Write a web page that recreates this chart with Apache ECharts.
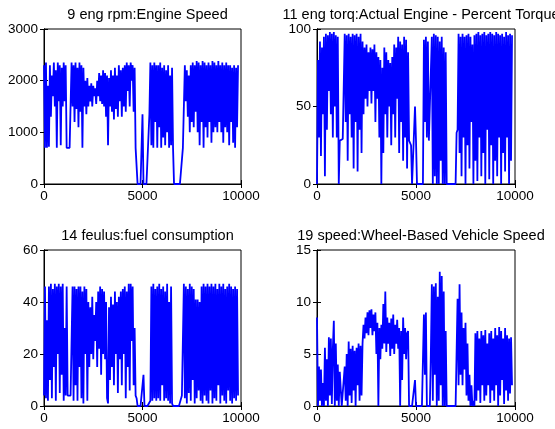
<!DOCTYPE html>
<html>
<head>
<meta charset="utf-8">
<title>engine signals</title>
<script src="https://cdn.jsdelivr.net/npm/echarts@6/dist/echarts.min.js"></script>
<style>
  html, body { margin: 0; padding: 0; background: #fff; }
  #main { width: 555px; height: 429px; }
</style>
</head>
<body>
<div id="main"></div>
<script>
// sample spacing (x axis is sample index)
var STEP = 50;

// 9 eng rpm
var rpm = [
  2300, 700, 2350, 700, 1900, 720, 2300, 1300, 2100, 1700,
  2350, 1500, 2200, 700, 2350, 1600, 2300, 750, 2250, 1500,
  2350, 1600, 2300, 700, 700, 700, 700, 700, 2350, 1500,
  2300, 1200, 2350, 1450, 2250, 1100, 2350, 1400, 2300, 700,
  2250, 1500, 2000, 1350, 2050, 1500, 1900, 1600, 1950, 1500,
  1900, 1700, 1850, 1550, 2000, 1700, 2150, 1600, 2100, 1550,
  2200, 1500, 2150, 1300, 2100, 750, 2050, 1500, 2200, 1400,
  2100, 1250, 2250, 1450, 2100, 1300, 2300, 1600, 2200, 1300,
  2250, 1500, 2300, 1400, 2350, 1800, 2300, 1500, 2350, 2000,
  2300, 1400, 2250, 700, 700, 0, 0, 0, 0, 0,
  1350, 0, 0, 0, 0, 0, 0, 1350, 2350, 750,
  2300, 700, 2350, 1200, 2300, 700, 2300, 1100, 2350, 700,
  2250, 900, 2300, 750, 2200, 1000, 2300, 700, 2100, 750,
  2250, 700, 0, 0, 0, 0, 0, 0, 0, 0,
  0, 700, 700, 2300, 1600, 2200, 1300, 2100, 1000, 2300,
  1200, 2350, 1100, 2300, 1400, 2380, 1000, 2350, 750, 2300,
  1200, 2380, 700, 2350, 1100, 2300, 900, 2350, 1200, 2300,
  800, 2380, 1000, 2350, 1100, 2300, 1000, 2380, 1200, 2300,
  1000, 2350, 800, 2300, 1100, 2350, 1000, 2300, 750, 2300,
  1200, 2250, 800, 2300, 700, 2250, 1100, 2300
];

// 11 eng torq
var torq = [
  0, 80, 30, 92, 18, 88, 45, 95, 5, 97,
  35, 96, 60, 98, 45, 97, 30, 98, 50, 96,
  30, 95, 0, 28, 28, 28, 29, 30, 97, 40,
  96, 15, 97, 45, 95, 30, 97, 10, 96, 40,
  97, 8, 95, 35, 97, 20, 92, 45, 88, 55,
  90, 50, 85, 60, 88, 52, 87, 60, 90, 40,
  85, 55, 82, 30, 80, 0, 75, 20, 88, 45,
  85, 30, 80, 50, 78, 25, 82, 45, 90, 30,
  88, 55, 95, 20, 92, 40, 90, 15, 95, 30,
  93, 10, 85, 28, 28, 25, 0, 0, 0, 50,
  28, 0, 0, 0, 0, 0, 0, 0, 93, 40,
  95, 30, 92, 28, 28, 27, 95, 0, 97, 5,
  96, 0, 95, 0, 92, 15, 95, 0, 88, 0,
  85, 0, 0, 0, 0, 0, 0, 0, 0, 0,
  0, 33, 35, 97, 20, 95, 5, 97, 30, 95,
  0, 96, 25, 97, 10, 95, 40, 90, 0, 96,
  15, 97, 2, 98, 30, 96, 5, 97, 20, 98,
  0, 96, 35, 97, 3, 98, 25, 97, 0, 96,
  15, 98, 5, 97, 30, 96, 0, 97, 20, 95,
  8, 98, 30, 96, 0, 97, 15, 96
];

// 14 feulus
var fuel = [
  4, 46, 3, 33, 2, 46, 10, 47, 3, 45,
  15, 47, 2, 46, 20, 47, 5, 46, 12, 47,
  2, 30, 4, 46, 4, 4, 4, 4, 4, 46,
  2, 46, 8, 45, 2, 46, 15, 46, 3, 44,
  1, 46, 20, 45, 2, 40, 15, 38, 20, 42,
  18, 35, 25, 40, 15, 44, 22, 46, 12, 45,
  20, 44, 18, 40, 3, 1, 38, 10, 42, 15,
  39, 8, 44, 20, 40, 5, 42, 18, 44, 8,
  45, 20, 46, 3, 44, 15, 47, 6, 47, 25,
  46, 8, 30, 4, 3, 0, 0, 0, 0, 0,
  0, 12, 0, 0, 0, 0, 0, 0, 2, 46,
  2, 47, 3, 45, 2, 46, 3, 47, 2, 45,
  8, 46, 2, 44, 3, 47, 2, 40, 1, 46,
  1, 0, 0, 0, 0, 0, 0, 0, 0, 0,
  4, 4, 47, 3, 46, 1, 45, 5, 47, 2,
  46, 10, 45, 1, 41, 3, 41, 6, 40, 2,
  46, 1, 47, 4, 46, 2, 47, 1, 46, 6,
  47, 1, 46, 3, 47, 2, 45, 8, 47, 1,
  46, 4, 47, 2, 45, 1, 46, 6, 47, 2,
  46, 1, 45, 3, 46, 2, 45, 4
];

// 19 speed
var speed = [
  8.5, 0, 3.8, 0.5, 3.5, 0, 2.2, 0, 5.6, 0.5,
  4.5, 0, 6.6, 1, 6.5, 0.2, 5.5, 8.2, 0, 6,
  0.5, 4, 0, 3.3, 3.3, 0, 0, 0, 3.8, 0.5,
  5, 0, 6.2, 1, 5.5, 0.3, 5.8, 1.5, 5.3, 0,
  5.6, 2, 6, 0.5, 5.8, 1, 6, 7.8, 6.5, 8.5,
  7, 9, 6.8, 9.2, 7.5, 9.3, 6.8, 8.8, 7.2, 9,
  5, 8, 0, 7.5, 4.5, 7.8, 5.5, 9.8, 6, 11,
  5.2, 8.5, 6, 8, 4.8, 8.4, 5.5, 8.8, 5, 7.8,
  6, 8.3, 5.5, 7.5, 0, 7.2, 2.5, 8.5, 5, 7.5,
  4.5, 7, 7.2, 0, 0, 0, 0, 0, 0, 2.5,
  0, 0, 0, 0, 0, 0, 0, 0, 8.8, 3,
  9, 0, 0, 0, 0, 5, 11.7, 0.5, 11.5, 3,
  11.8, 0, 10.5, 0.5, 12.9, 2, 12.5, 0, 11, 0,
  7.2, 0, 0, 0, 0, 0, 0, 0, 0, 0,
  0, 0, 10.3, 2, 11.7, 3, 9, 2, 7.5, 3.5,
  8, 1, 6, 0.5, 3, 0, 2, 0, 0.5, 0,
  7, 0.5, 7.2, 1.5, 6.5, 0.3, 7.2, 2, 6.8, 0.5,
  7.3, 1, 6, 2, 7, 0.3, 7.2, 1.5, 6.5, 0.5,
  7.5, 2, 6.8, 0, 7.6, 1, 7.2, 2.5, 6.5, 0.2,
  7.5, 1.5, 6.8, 0.5, 6.5, 1.2, 6.6, 2
];

var titles = [
  '9 eng rpm:Engine Speed',
  '11 eng torq:Actual Engine - Percent Torque',
  '14 feulus:fuel consumption',
  '19 speed:Wheel-Based Vehicle Speed'
];
var yMax = [3000, 100, 60, 15];
var yStep = [1000, 50, 20, 5];
var xTicks = [0, 5000, 10000];

var FONT = 'Liberation Sans';
var grids = [
  { left: 44, top: 29, width: 197, height: 155 },
  { left: 317, top: 29, width: 198, height: 155 },
  { left: 44, top: 250, width: 197, height: 156 },
  { left: 317, top: 250, width: 198, height: 156 }
];

function pts(arr) {
  return arr.map(function (v, i) { return [i * STEP, v]; });
}
function plain(v) { return String(v); }

var allData = [rpm, torq, fuel, speed];
var xAxes = [], yAxes = [], series = [], titleList = [];

grids.forEach(function (g, k) {
  g.show = true;
  g.borderColor = '#000';
  g.borderWidth = 1;
  g.backgroundColor = '#fff';

  ['bottom', 'top'].forEach(function (pos) {
    xAxes.push({
      type: 'value', gridIndex: k, position: pos,
      min: xTicks[0], max: xTicks[xTicks.length - 1], interval: 5000,
      axisLine: { show: true, lineStyle: { color: '#000', width: 1 } },
      axisTick: { show: true, inside: true, length: 4, lineStyle: { color: '#000' } },
      axisLabel: { show: pos === 'bottom', color: '#000', fontSize: 13.5, fontFamily: FONT, margin: 5, formatter: plain },
      splitLine: { show: false }
    });
  });
  ['left', 'right'].forEach(function (pos) {
    yAxes.push({
      type: 'value', gridIndex: k, position: pos,
      min: 0, max: yMax[k], interval: yStep[k],
      axisLine: { show: true, lineStyle: { color: '#000', width: 1 } },
      axisTick: { show: true, inside: true, length: 4, lineStyle: { color: '#000' } },
      axisLabel: { show: pos === 'left', color: '#000', fontSize: 13.5, fontFamily: FONT, margin: 6, formatter: plain },
      splitLine: { show: false }
    });
  });

  series.push({
    type: 'line',
    xAxisIndex: k * 2,
    yAxisIndex: k * 2,
    data: pts(allData[k]),
    showSymbol: false,
    symbol: 'none',
    lineStyle: { color: '#0000ff', width: 1.8 },
    clip: true
  });

  titleList.push({
    text: titles[k],
    left: g.left + g.width / 2,
    top: g.top - 27,
    textAlign: 'center',
    textStyle: { color: '#000', fontSize: 14.5, fontWeight: 'normal', fontFamily: FONT }
  });
});

var myChart = echarts.init(document.getElementById('main'));
myChart.setOption({
  animation: false,
  backgroundColor: '#fff',
  title: titleList,
  grid: grids,
  xAxis: xAxes,
  yAxis: yAxes,
  series: series
});
</script>
</body>
</html>
